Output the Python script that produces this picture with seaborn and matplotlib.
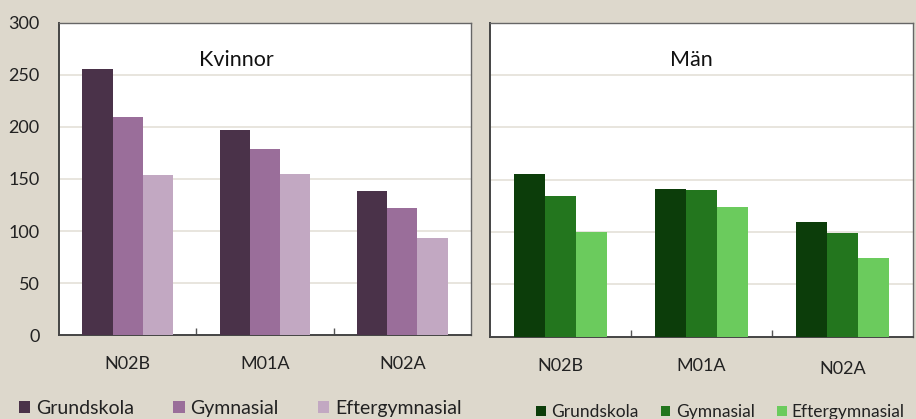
import matplotlib
matplotlib.use("Agg")
import matplotlib.pyplot as plt
import seaborn as sns
import pandas as pd
from matplotlib.ticker import FixedLocator

# Drug groups (ATC codes) and education levels
categories = ["N02B", "M01A", "N02A"]
levels = ["Grundskola", "Gymnasial", "Eftergymnasial"]

# Values per education level, women
kvinnor_grund = [256, 197, 138]
kvinnor_gymn = [210, 179, 122]
kvinnor_efter = [154, 155, 93]

# Values per education level, men
man_grund = [155, 141, 110]
man_gymn = [134, 140, 99]
man_efter = [100, 124, 75]

yticks = [0, 50, 100, 150, 200, 250, 300]

kvinnor_colors = ["#4a3249", "#9a6e9a", "#c2a8c2"]
man_colors = ["#0c3d0a", "#23761e", "#6bcb5d"]

bg = "#ddd8cc"
grid_c = "#e4e0d8"
font = ["Lato", "DejaVu Sans"]


def long_table(grund, gymn, efter):
    rows = []
    for lev, vals in zip(levels, [grund, gymn, efter]):
        for cat, v in zip(categories, vals):
            rows.append({"kod": cat, "utbildning": lev, "antal": v})
    return pd.DataFrame(rows)


df_k = long_table(kvinnor_grund, kvinnor_gymn, kvinnor_efter)
df_m = long_table(man_grund, man_gymn, man_efter)

sns.set_theme(style="white")
plt.rcParams["font.family"] = font

fig = plt.figure(figsize=(9.16, 4.19), dpi=100, facecolor=bg)
ax_k = fig.add_axes([59 / 916, 84 / 419, 412 / 916, 312 / 419])
ax_m = fig.add_axes([490 / 916, 82.3 / 419, 423 / 916, 314 / 419])


def draw(ax, df, colors, title, title_x, show_y, label_pad):
    sns.barplot(data=df, x="kod", y="antal", hue="utbildning",
                hue_order=levels, order=categories, palette=colors,
                width=0.66, gap=0, saturation=1, ax=ax, legend=True,
                edgecolor="none", linewidth=0, zorder=3)
    ax.set_facecolor("white")
    ax.set_ylim(0, 300)
    ax.set_xlim(-0.5, 2.5)
    ax.set_xlabel("")
    ax.set_ylabel("")
    ax.yaxis.set_major_locator(FixedLocator(yticks))
    for y in yticks[1:-1]:
        ax.axhline(y, color=grid_c, lw=1.2, zorder=1)
    ax.xaxis.set_minor_locator(FixedLocator([0.5, 1.5]))
    ax.tick_params(axis="x", which="major", length=0, pad=label_pad,
                   labelsize=13, labelcolor="#222222")
    ax.tick_params(axis="x", which="minor", direction="in", length=5,
                   width=1, color="#555555", bottom=True)
    if show_y:
        ax.tick_params(axis="y", length=0, pad=14, labelsize=13,
                       labelcolor="#222222")
    else:
        ax.tick_params(axis="y", length=0, labelleft=False)
    for side in ["left", "bottom"]:
        ax.spines[side].set_color("#444444")
        ax.spines[side].set_linewidth(1.4)
    for side in ["top", "right"]:
        ax.spines[side].set_color("#666666")
        ax.spines[side].set_linewidth(1.0)
    ax.text(title_x, 0.88, title, transform=ax.transAxes, ha="center",
            va="center", fontsize=15.5, color="#111111", family=font)


draw(ax_k, df_k, kvinnor_colors, "Kvinnor", 0.43, True, 15)
draw(ax_m, df_m, man_colors, "Män", 0.475, False, 15)

# The last label of the men's panel sits a little lower
lbl = ax_m.get_xticklabels()[2]
lbl.set_y(-0.012)

# Legends below each panel
h, l = ax_k.get_legend_handles_labels()
ax_k.legend(h, l, loc="center", bbox_to_anchor=(0.44, -0.235), ncol=3,
            frameon=False, fontsize=14, handlelength=0.6, handleheight=0.6,
            handletextpad=0.3, columnspacing=2.0, borderaxespad=0,
            labelcolor="#222222")
h, l = ax_m.get_legend_handles_labels()
ax_m.legend(h, l, loc="center", bbox_to_anchor=(0.545, -0.24), ncol=3,
            frameon=False, fontsize=12.5, handlelength=0.55, handleheight=0.55,
            handletextpad=0.3, columnspacing=1.3, borderaxespad=0,
            labelcolor="#222222")

fig.savefig("out.png", dpi=100, facecolor=bg)
